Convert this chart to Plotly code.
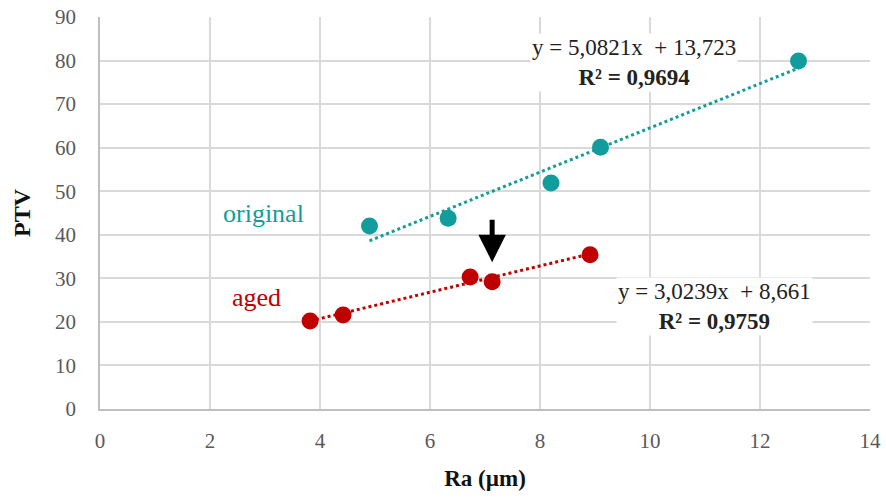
import plotly.graph_objects as go

orig_x = [4.9, 6.33, 8.2, 9.1, 12.7]
orig_y = [42.0, 43.8, 51.9, 60.1, 79.9]
aged_x = [3.82, 4.42, 6.73, 7.13, 8.91]
aged_y = [20.2, 21.6, 30.3, 29.2, 35.4]

orig_slope, orig_icpt = 5.0821, 13.723
aged_slope, aged_icpt = 3.0239, 8.661

x_ticks = [0, 2, 4, 6, 8, 10, 12, 14]
y_ticks = [0, 10, 20, 30, 40, 50, 60, 70, 80, 90]

TEAL = "#129c9c"
RED = "#c00000"
FONT = "Liberation Serif, Times New Roman, serif"

fig = go.Figure()

ox = [min(orig_x), max(orig_x)]
ax_ = [min(aged_x), max(aged_x)]
fig.add_trace(go.Scatter(x=ox, y=[orig_slope * v + orig_icpt for v in ox], mode="lines",
                         line=dict(color=TEAL, width=3, dash="dot"), showlegend=False, hoverinfo="skip"))
fig.add_trace(go.Scatter(x=ax_, y=[aged_slope * v + aged_icpt for v in ax_], mode="lines",
                         line=dict(color=RED, width=3, dash="dot"), showlegend=False, hoverinfo="skip"))

fig.add_trace(go.Scatter(x=orig_x, y=orig_y, mode="markers", name="original",
                         marker=dict(color=TEAL, size=17), showlegend=False))
fig.add_trace(go.Scatter(x=aged_x, y=aged_y, mode="markers", name="aged",
                         marker=dict(color=RED, size=17), showlegend=False))

fig.add_annotation(x=2.98, y=45, text="original", showarrow=False,
                   font=dict(family=FONT, size=26, color=TEAL))
fig.add_annotation(x=2.85, y=25.5, text="aged", showarrow=False,
                   font=dict(family=FONT, size=26, color=RED))

fig.add_annotation(x=9.7, y=79.6, text="y = 5,0821x&nbsp; + 13,723<br><b>R² = 0,9694</b>", showarrow=False,
                   font=dict(family=FONT, size=23, color="#222222"), bgcolor="white", align="center")
fig.add_annotation(x=11.18, y=23.6, text="y = 3,0239x&nbsp; + 8,661<br><b>R² = 0,9759</b>", showarrow=False,
                   font=dict(family=FONT, size=23, color="#222222"), bgcolor="white", align="center")

fig.add_annotation(x=7.13, y=33.7, ax=7.13, ay=43.8, xref="x", yref="y", axref="x", ayref="y",
                   text="", showarrow=True, arrowhead=2, arrowsize=1.1, arrowwidth=5, arrowcolor="black")

fig.update_layout(
    width=886, height=498,
    margin=dict(l=100, r=16, t=17, b=89, autoexpand=False),
    plot_bgcolor="white", paper_bgcolor="white",
    font=dict(family=FONT),
)
fig.update_xaxes(range=[0, 14], tickvals=x_ticks, showgrid=True, gridcolor="#d9d9d9", gridwidth=1.5,
                 zeroline=False, showline=True, linecolor="#bfbfbf", linewidth=1.5, automargin=False,
                 tickfont=dict(family=FONT, size=21, color="#595959"),
                 ticks="outside", ticklen=12, tickcolor="rgba(0,0,0,0)",
                 title=dict(text="<b>Ra (µm)</b>", font=dict(family=FONT, size=23, color="#111111"), standoff=18))
fig.update_yaxes(range=[0, 90], tickvals=y_ticks, showgrid=True, gridcolor="#d9d9d9", gridwidth=1.5,
                 zeroline=False, showline=True, linecolor="#bfbfbf", linewidth=1.5, automargin=False,
                 tickfont=dict(family=FONT, size=21, color="#595959"),
                 ticks="outside", ticklen=18, tickcolor="rgba(0,0,0,0)",
                 title=dict(text="<b>PTV</b>", font=dict(family=FONT, size=24, color="#111111"), standoff=18))

fig.write_html("out.html")
